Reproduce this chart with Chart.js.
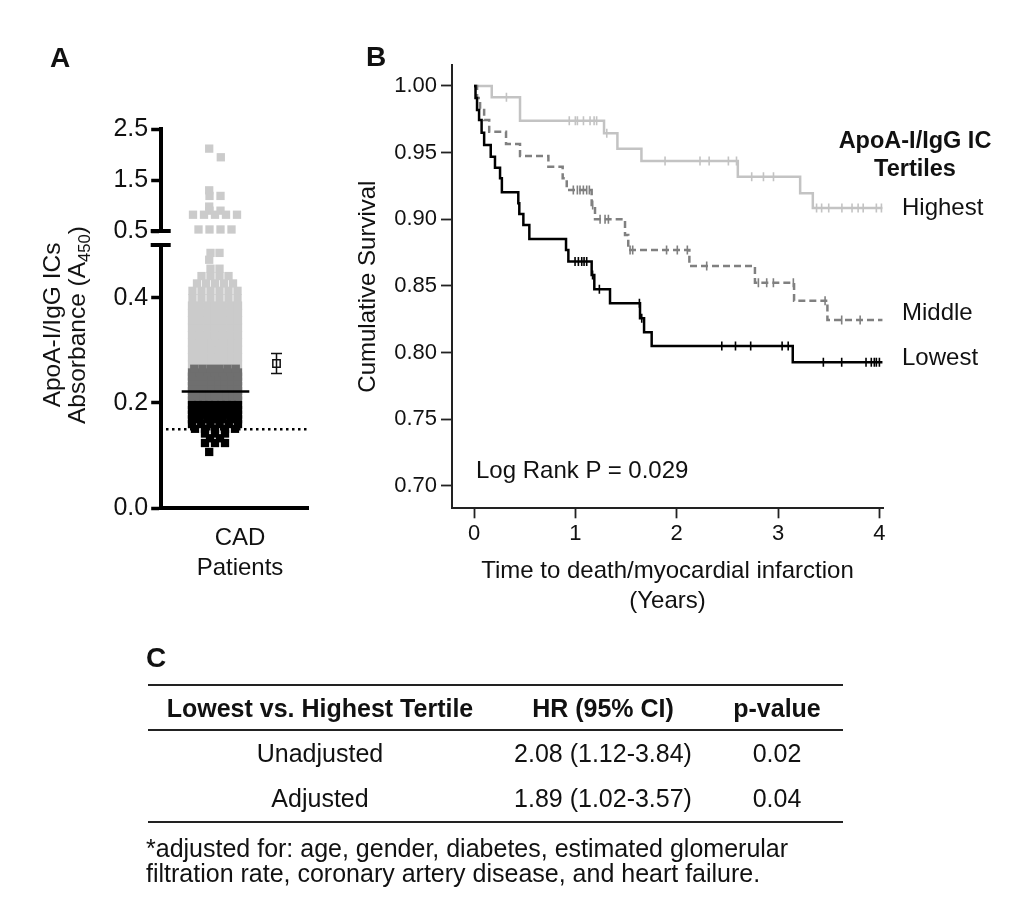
<!DOCTYPE html>
<html><head><meta charset="utf-8">
<script src="https://cdn.jsdelivr.net/npm/chart.js@4.4.1/dist/chart.umd.min.js"></script>
<style>
html,body{margin:0;padding:0;background:#fff;}
body{width:1024px;height:902px;position:relative;overflow:hidden;font-family:'Liberation Sans',Arial,sans-serif;color:#111;}
canvas{position:absolute;left:0;top:0;}
.t{position:absolute;white-space:nowrap;line-height:30px;}
.c{transform:translateX(-50%);}
.b{font-weight:bold;}
.rule{position:absolute;left:148px;width:695px;height:2px;background:#222;}
sub{font-size:0.68em;vertical-align:-0.3em;line-height:0;}
</style></head><body>
<canvas id="aUp" width="1024" height="902"></canvas>
<canvas id="aLow" width="1024" height="902"></canvas>
<canvas id="bChart" width="1024" height="902"></canvas>

<div class="t b" style="left:50px;top:43px;font-size:28px">A</div>
<div class="t b" style="left:366px;top:42px;font-size:28px">B</div>
<div class="t b" style="left:146px;top:643px;font-size:28px">C</div>

<div style="position:absolute;left:64px;top:325px;transform:translate(-50%,-50%) rotate(-90deg);text-align:center;font-size:24.5px;line-height:25px;white-space:nowrap">ApoA-I/IgG ICs<br>Absorbance (A<sub>450</sub>)</div>
<div class="t c" id="xA1" style="left:240px;top:522px;font-size:24px"></div>
<div class="t c" id="xA2" style="left:240px;top:552px;font-size:24px"></div>

<div class="t" style="left:476px;top:455px;font-size:24px">Log Rank P = 0.029</div>
<div class="t c b" style="left:915px;top:125px;font-size:23.5px">ApoA-I/IgG IC</div>
<div class="t c b" style="left:915px;top:153px;font-size:23.5px">Tertiles</div>

<div class="rule" style="top:684px"></div>
<div class="rule" style="top:729px"></div>
<div class="rule" style="top:821px"></div>
<div id="table"></div>
<div class="t" style="left:146px;top:833px;font-size:25px">*adjusted for: age, gender, diabetes, estimated glomerular</div>
<div class="t" style="left:146px;top:858px;font-size:25px">filtration rate, coronary artery disease, and heart failure.</div>

<script>
// ---------------- Panel A data ----------------
const aLowestLevels = [0.107, 0.124, 0.133, 0.142, 0.151, 0.160, 0.169, 0.178, 0.187, 0.196];
const aLowestCounts = [1, 3, 2, 3, 5, 6, 7, 8, 9, 9];
const aMiddleLevels = [0.205, 0.214, 0.223, 0.232, 0.241, 0.250, 0.258, 0.265];
const aMiddleCounts = [9, 9, 9, 8, 8, 8, 7, 6];
const aHighestLevels = [0.273, 0.287, 0.301, 0.315, 0.329, 0.343, 0.357, 0.371, 0.385, 0.399, 0.413, 0.427, 0.441, 0.455, 0.472, 0.485];
const aHighestCounts = [8, 8, 8, 8, 7, 7, 7, 7, 7, 6, 6, 5, 4, 2, 1, 2];
const aUpperLevels = [2.12, 1.95, 1.30, 1.19, 0.98, 0.90, 0.82, 0.53];
const aUpperCounts = [1, 1, 1, 2, 1, 2, 5, 4];
const aYTicksLow = [0.0, 0.2, 0.4];
const aYTicksUp = [0.5, 1.5, 2.5];
const aMean = 0.275, aSemLo = 0.256, aSemHi = 0.294;
const aMedian = 0.222;
const aCutoff = 0.15;
const aXLabel = ['CAD', 'Patients'];

// ---------------- Panel B data ----------------
const bXTicks = [0, 1, 2, 3, 4];
const bYTicks = [0.70, 0.75, 0.80, 0.85, 0.90, 0.95, 1.00];
const tertileNames = ['Highest', 'Middle', 'Lowest'];
const highT = [0, 0.175, 0.454, 1.283, 1.415, 1.652, 2.603, 3.218, 3.343, 4.03];
const highS = [1.000, 0.9915, 0.974, 0.9645, 0.953, 0.9438, 0.932, 0.9196, 0.9085, 0.9085];
const highCens = [0.32, 0.94, 1.0, 1.02, 1.08, 1.145, 1.185, 1.21, 1.31, 1.885, 2.23, 2.32, 2.51, 2.59, 2.74, 2.856, 2.955, 3.38, 3.43, 3.50, 3.63, 3.73, 3.79, 3.84, 3.97, 4.02];
const midT = [0, 0.03, 0.06, 0.10, 0.15, 0.316, 0.454, 0.734, 0.875, 0.915, 1.161, 1.194, 1.49, 1.522, 2.125, 2.772, 3.158, 3.487, 4.03];
const midS = [1.0, 0.991, 0.983, 0.9745, 0.9657, 0.9565, 0.9475, 0.9395, 0.9308, 0.922, 0.9108, 0.900, 0.8883, 0.877, 0.865, 0.8525, 0.839, 0.8245, 0.8245];
const midCens = [0.98, 1.02, 1.046, 1.079, 1.112, 1.138, 1.171, 1.244, 1.293, 1.326, 1.54, 1.566, 1.90, 2.006, 2.105, 2.296, 2.806, 2.888, 2.954, 3.151, 3.464, 3.628, 3.81];
const lowT = [0, 0.015, 0.03, 0.05, 0.075, 0.10, 0.165, 0.207, 0.257, 0.275, 0.437, 0.447, 0.487, 0.546, 0.908, 0.931, 1.161, 1.187, 1.342, 1.638, 1.678, 1.753, 3.145, 4.03];
const lowS = [1.0, 0.991, 0.982, 0.9745, 0.965, 0.9558, 0.947, 0.9387, 0.9308, 0.9203, 0.912, 0.904, 0.8958, 0.8853, 0.877, 0.8683, 0.8583, 0.8475, 0.837, 0.8258, 0.8153, 0.805, 0.7928, 0.7928];
const lowCens = [0.997, 1.03, 1.063, 1.086, 1.112, 1.17, 1.237, 1.632, 1.655, 2.445, 2.58, 2.73, 3.04, 3.10, 3.447, 3.628, 3.868, 3.92, 3.95, 3.97, 4.0];

// ---------------- Panel C data ----------------
const tableHeader = ['Lowest vs. Highest Tertile', 'HR (95% CI)', 'p-value'];
const tableRows = [['Unadjusted', '2.08 (1.12-3.84)', '0.02'], ['Adjusted', '1.89 (1.02-3.57)', '0.04']];

// ---------------- layout ----------------
const FONT = "'Liberation Sans', Arial, sans-serif";
Chart.defaults.font.family = FONT;
Chart.defaults.color = '#111';
Chart.defaults.animation = false;
Chart.defaults.events = [];
Chart.defaults.plugins.legend.display = false;
Chart.defaults.plugins.tooltip.enabled = false;

document.getElementById('xA1').textContent = aXLabel[0];
document.getElementById('xA2').textContent = aXLabel[1];

(function buildTable(){
  const cols = [320, 603, 777];
  const rowsY = [693, 738, 783];
  let html = '';
  const all = [tableHeader].concat(tableRows);
  all.forEach((r, ri) => r.forEach((txt, ci) => {
    html += '<div class="t c' + (ri === 0 ? ' b' : '') + '" style="left:' + cols[ci] + 'px;top:' + rowsY[ri] + 'px;font-size:25px">' + txt + '</div>';
  }));
  document.getElementById('table').innerHTML = html;
})();

const A_LEFT = 160.7, A_RIGHT = 308.3, A_W = A_RIGHT - A_LEFT;
const A_LOW_TOP = 245, A_LOW_BOTTOM = 508.3, A_UP_TOP = 129.3, A_UP_BOTTOM = 231;
const COL_X = 215 - A_LEFT, MEAN_X = 276.5 - A_LEFT;
const MED_X = [181.7 - A_LEFT, 249.3 - A_LEFT], CUT_X = [166 - A_LEFT, 306.7 - A_LEFT];
const SQ = 8.3, MAXW = 46;

function swarm(levels, counts, maxStep) {
  const pts = [];
  levels.forEach((v, i) => {
    const n = counts[i];
    const step = n > 1 ? Math.min(maxStep, MAXW / (n - 1)) : 0;
    for (let k = 0; k < n; k++) {
      let off = (k - (n - 1) / 2) * step;
      if (n === 1) off = (i % 2 ? 1 : -1) * SQ * 0.7;
      pts.push({x: COL_X + off, y: v});
    }
  });
  return pts;
}
function ptsDs(data, color) {
  return {type: 'scatter', data, pointStyle: 'rect', pointRadius: SQ / Math.SQRT2, pointBorderWidth: 0,
    pointBackgroundColor: color, pointBorderColor: color, clip: false};
}
function aYScale(min, max, ticks) {
  return {
    type: 'linear', min, max,
    afterFit(s) { s.width = A_LEFT - 100; },
    afterBuildTicks(s) { s.ticks = ticks.map(v => ({value: v})); },
    ticks: {font: {size: 25}, color: '#111', padding: 3, callback: v => Number(v).toFixed(1)},
    grid: {drawOnChartArea: false, tickLength: 9.5, tickWidth: 3.5, tickColor: '#000', color: '#000'},
    border: {color: '#000', width: 4}
  };
}
function breakMark(where) {
  return {id: 'brk' + where, afterDraw(chart) {
    const {ctx, chartArea: a} = chart;
    const y = where === 'top' ? a.top : a.bottom;
    ctx.save(); ctx.strokeStyle = '#000'; ctx.lineWidth = 4;
    ctx.beginPath(); ctx.moveTo(a.left - 10, y); ctx.lineTo(a.left + 10, y); ctx.stroke(); ctx.restore();
  }};
}

// Upper segment of panel A
new Chart(document.getElementById('aUp'), {
  type: 'scatter',
  data: {datasets: [ptsDs(swarm(aUpperLevels, aUpperCounts, 11), '#cbcbcb')]},
  options: {
    responsive: false,
    layout: {padding: {left: 100, right: 1024 - A_RIGHT, top: A_UP_TOP, bottom: 902 - A_UP_BOTTOM}},
    scales: {
      x: {type: 'linear', min: 0, max: A_W, display: false},
      y: aYScale(0.5, 2.5, aYTicksUp)
    }
  },
  plugins: [breakMark('bottom')]
});

// Lower segment of panel A
new Chart(document.getElementById('aLow'), {
  type: 'scatter',
  data: {datasets: [
    {type: 'line', data: MED_X.map(x => ({x, y: aMedian})), borderColor: '#000', borderWidth: 2.5, pointRadius: 0},
    {type: 'line', data: CUT_X.map(x => ({x, y: aCutoff})), borderColor: '#000', borderWidth: 2.5, borderDash: [2.5, 3.5], pointRadius: 0},
    {type: 'scatter', data: [{x: MEAN_X, y: aMean}], pointStyle: 'rect', pointRadius: 5.2, pointBorderWidth: 1.5,
      pointBorderColor: '#111', pointBackgroundColor: 'rgba(0,0,0,0)'},
    ptsDs(swarm(aLowestLevels, aLowestCounts, 10), '#000'),
    ptsDs(swarm(aMiddleLevels, aMiddleCounts, SQ), '#6f6f6f'),
    ptsDs(swarm(aHighestLevels, aHighestCounts, 9), '#cbcbcb')
  ]},
  options: {
    responsive: false,
    layout: {padding: {left: 100, right: 1024 - A_RIGHT, top: A_LOW_TOP, bottom: 902 - A_LOW_BOTTOM}},
    scales: {
      x: {type: 'linear', min: 0, max: A_W, afterFit(s) { s.height = 0; },
        ticks: {display: false}, grid: {display: false}, border: {color: '#000', width: 4}},
      y: aYScale(0, 0.5, aYTicksLow)
    }
  },
  plugins: [breakMark('top'), {id: 'err', afterDatasetsDraw(chart) {
    const {ctx, scales: {x, y}} = chart;
    const px = x.getPixelForValue(MEAN_X), y0 = y.getPixelForValue(aSemLo), y1 = y.getPixelForValue(aSemHi);
    ctx.save(); ctx.strokeStyle = '#111'; ctx.lineWidth = 1.5;
    ctx.beginPath(); ctx.moveTo(px, y0); ctx.lineTo(px, y1);
    ctx.moveTo(px - 5.5, y0); ctx.lineTo(px + 5.5, y0);
    ctx.moveTo(px - 5.5, y1); ctx.lineTo(px + 5.5, y1); ctx.stroke(); ctx.restore();
  }}]
});

// Panel B
function stepAt(T, S, t) { let v = S[0]; for (let i = 0; i < T.length; i++) if (T[i] <= t) v = S[i]; return v; }
function curve(T, S, color, dash) {
  return {data: T.map((t, i) => ({x: t, y: S[i]})), borderColor: color, borderWidth: 2.5, borderDash: dash,
    stepped: true, pointRadius: 0, fill: false};
}
function cens(C, T, S, color) {
  return {data: C.map(t => ({x: t, y: stepAt(T, S, t)})), showLine: false, pointStyle: 'line', pointRotation: 90,
    pointRadius: 4.5, pointBorderWidth: 1.6, pointBorderColor: color, borderColor: color};
}
const colHigh = '#c3c3c3', colMid = '#808080', colLow = '#000';
const lastVals = [highS[highS.length - 1], midS[midS.length - 1], lowS[lowS.length - 1]];
const labelDy = [0, -6.7, -3.4];

new Chart(document.getElementById('bChart'), {
  type: 'line',
  data: {datasets: [
    curve(lowT, lowS, colLow, []),
    cens(lowCens, lowT, lowS, colLow),
    curve(midT, midS, colMid, [7, 4]),
    cens(midCens, midT, midS, colMid),
    curve(highT, highS, colHigh, []),
    cens(highCens, highT, highS, colHigh)
  ]},
  options: {
    responsive: false,
    layout: {padding: {left: 353.6, right: 141, top: 65, bottom: 285.3}},
    scales: {
      x: {type: 'linear', min: -0.2171, max: 4.0355,
        afterFit(s) { s.height = 108.4; },
        afterBuildTicks(s) { s.ticks = bXTicks.map(v => ({value: v})); },
        ticks: {font: {size: 22}, color: '#111', padding: 2, callback: v => String(v)},
        grid: {drawOnChartArea: false, tickLength: 10, tickWidth: 1.8, tickColor: '#222', color: '#222'},
        border: {color: '#222', width: 2},
        title: {display: true, text: ['Time to death/myocardial infarction', '(Years)'], font: {size: 24, lineHeight: 1.25}, color: '#111', padding: 0}
      },
      y: {type: 'linear', min: 0.68327, max: 1.01575,
        afterFit(s) { s.width = 98.4; },
        afterBuildTicks(s) { s.ticks = bYTicks.map(v => ({value: v})); },
        ticks: {font: {size: 22}, color: '#111', padding: 4, callback: v => Number(v).toFixed(2)},
        grid: {drawOnChartArea: false, tickLength: 11, tickWidth: 1.8, tickColor: '#222', color: '#222'},
        border: {color: '#222', width: 2},
        title: {display: true, text: 'Cumulative Survival', font: {size: 24, lineHeight: 1.2}, color: '#111', padding: 0}
      }
    }
  },
  plugins: [{id: 'endLabels', afterDatasetsDraw(chart) {
    const {ctx, chartArea: a, scales: {y}} = chart;
    ctx.save(); ctx.font = '24px ' + FONT; ctx.fillStyle = '#111'; ctx.textBaseline = 'middle';
    tertileNames.forEach((n, i) => ctx.fillText(n, a.right + 19, y.getPixelForValue(lastVals[i]) + labelDy[i]));
    ctx.restore();
  }}]
});
</script>
</body></html>
